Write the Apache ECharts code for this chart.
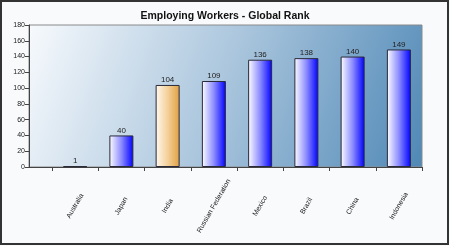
<!DOCTYPE html>
<html>
<head>
<meta charset="utf-8">
<script src="https://cdn.jsdelivr.net/npm/echarts@6/dist/echarts.min.js"></script>
<style>
html,body{margin:0;padding:0;background:#f8fafc;}
#c{width:450px;height:246px;}
</style>
</head>
<body>
<div id="c"></div>
<script>
const categories = ['Australia', 'Japan', 'India', 'Russian Federation', 'Mexico', 'Brazil', 'China', 'Indonesia'];
const ranks = [1, 40, 104, 109, 136, 138, 140, 149];
const highlighted = ['India'];
const yMin = 0, yMax = 180, yStep = 20;
const titleText = 'Employing Workers - Global Rank';

const blueFill = new echarts.graphic.LinearGradient(0, 0, 1, 0, [
  {offset: 0, color: '#ffffff'}, {offset: 0.5, color: '#8c8cff'}, {offset: 1, color: '#0000ff'}
]);
const orangeFill = new echarts.graphic.LinearGradient(0, 0, 1, 0, [
  {offset: 0, color: '#fffaf0'}, {offset: 0.5, color: '#f4d09a'}, {offset: 1, color: '#e0a040'}
]);

const chart = echarts.init(document.getElementById('c'), null, {renderer: 'canvas'});
const font = 'Liberation Sans, Arial, sans-serif';
chart.setOption({
  backgroundColor: '#f8fafc',
  animation: false,
  title: {
    text: titleText, left: 'center', top: 6,
    textStyle: {fontFamily: font, fontSize: 10.5, fontWeight: 'bold', color: '#111'}
  },
  graphic: [{
    type: 'rect', silent: true, z: 100,
    shape: {x: 1, y: 1, width: 447, height: 243},
    style: {fill: 'none', stroke: '#333', lineWidth: 2}
  }],
  grid: [
    {left: 29, right: 28, top: 25, bottom: 79, show: true, outerBoundsMode: 'none',
     borderColor: '#8a8a8a', borderWidth: 1,
     backgroundColor: new echarts.graphic.LinearGradient(0, 0, 1, 1, [
       {offset: 0, color: '#f7fafd'}, {offset: 0.5, color: '#a8c4dc'}, {offset: 1, color: '#4f88b6'}
     ])},
    {left: 52, right: 28, top: 25, bottom: 79, outerBoundsMode: 'none'}
  ],
  xAxis: [
    {gridIndex: 0, type: 'category', data: [''],
     axisLine: {show: true, lineStyle: {color: '#444', width: 1}},
     axisTick: {show: false}, axisLabel: {show: false}},
    {gridIndex: 1, type: 'category', data: categories,
     axisLine: {show: true, lineStyle: {color: '#444', width: 1}},
     axisTick: {show: true, length: 4, lineStyle: {color: '#444'}},
     axisLabel: {rotate: 60, margin: 39, align: 'center', verticalAlign: 'middle',
       fontFamily: font, fontSize: 7, color: '#222', interval: 0}}
  ],
  yAxis: [
    {gridIndex: 0, type: 'value', min: yMin, max: yMax, interval: yStep,
     axisLine: {show: true, lineStyle: {color: '#444'}},
     axisTick: {show: true, length: 4, lineStyle: {color: '#444'}},
     splitLine: {show: false},
     axisLabel: {fontFamily: font, fontSize: 7, color: '#222', margin: 4}},
    {gridIndex: 1, type: 'value', min: yMin, max: yMax, interval: yStep, show: false,
     splitLine: {show: false}}
  ],
  series: [{
    type: 'bar', xAxisIndex: 1, yAxisIndex: 1, barWidth: 24,
    data: ranks.map((v, i) => ({
      value: v,
      itemStyle: {
        color: highlighted.includes(categories[i]) ? orangeFill : blueFill,
        borderColor: '#2a2a3a', borderWidth: 1
      }
    })),
    label: {show: true, position: 'top', distance: 1,
      fontFamily: font, fontSize: 8, color: '#222'}
  }]
});
</script>
</body>
</html>
